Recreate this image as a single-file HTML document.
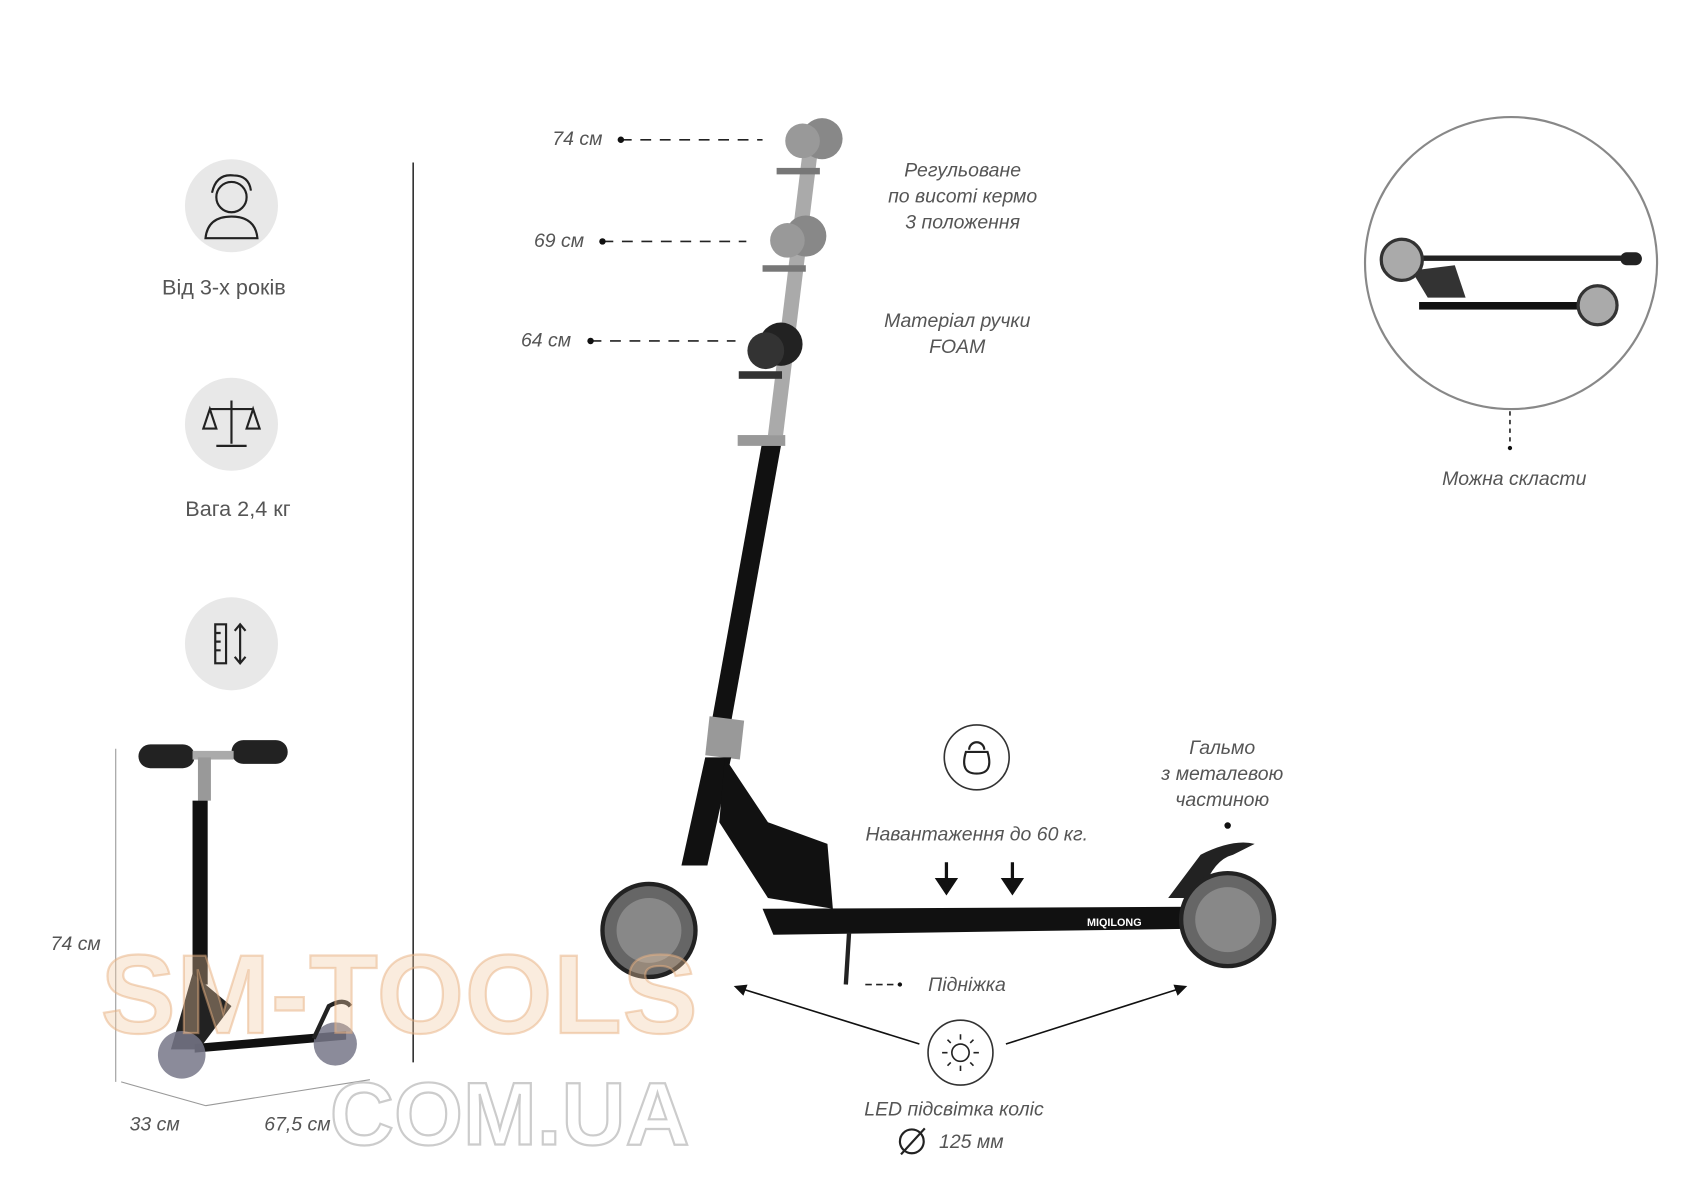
<!DOCTYPE html>
<html><head><meta charset="utf-8"><style>
html,body{margin:0;padding:0;background:#fff;}
svg{display:block}
text{font-family:"Liberation Sans",sans-serif;}
.it{font-style:italic;fill:#555;font-size:18px;}
.lb{fill:#555;font-size:20px;}
</style></head><body>
<svg width="1696" height="1200" viewBox="0 0 1568 1109" xmlns="http://www.w3.org/2000/svg">
<rect width="1568" height="1109" fill="#fff"/>
<circle cx="214" cy="190" r="43" fill="#e8e8e8"/>
<g fill="none" stroke="#222" stroke-width="2"><circle cx="214" cy="182" r="14"/><path d="M196 178q4-18 20-16q14 0 16 14"/><path d="M190 220q2-20 24-20q22 0 24 20z"/></g>
<text x="207" y="272" class="lb" text-anchor="middle">Від 3-х років</text>
<circle cx="214" cy="392" r="43" fill="#e8e8e8"/>
<g fill="none" stroke="#222" stroke-width="2"><path d="M214 370v40M200 412h28M194 378h40M194 378l-6 18h12zM234 378l-6 18h12z"/></g>
<text x="220" y="477" class="lb" text-anchor="middle">Вага 2,4 кг</text>
<circle cx="214" cy="595" r="43" fill="#e8e8e8"/>
<g fill="none" stroke="#222" stroke-width="2"><rect x="199" y="577" width="10" height="36"/><path d="M199 585h5M199 593h5M199 601h5M222 578v34M217 583l5-6 5 6M217 607l5 6 5-6"/></g>
<line x1="382" y1="150" x2="382" y2="982" stroke="#333" stroke-width="1.5"/>
<g>
<line x1="107" y1="692" x2="107" y2="1000" stroke="#999" stroke-width="1"/>
<line x1="112" y1="1000" x2="190" y2="1022" stroke="#999"/>
<line x1="190" y1="1022" x2="342" y2="998" stroke="#999"/>
<rect x="128" y="688" width="52" height="22" rx="11" fill="#222"/>
<rect x="214" y="684" width="52" height="22" rx="11" fill="#222"/>
<rect x="178" y="694" width="38" height="8" fill="#aaa"/>
<rect x="183" y="700" width="12" height="40" fill="#999"/>
<rect x="178" y="740" width="14" height="170" fill="#111"/>
<path d="M178 900l-20 70h26l30-40z" fill="#222"/>
<path d="M180 965l140-12v8l-140 12z" fill="#111"/>
<circle cx="168" cy="975" r="22" fill="#778" opacity="0.85"/>
<circle cx="310" cy="965" r="20" fill="#778" opacity="0.85"/>
<path d="M290 960l14-30q14-8 20 0" fill="none" stroke="#222" stroke-width="4"/>
</g>
<text x="70" y="878" class="it" text-anchor="middle">74 см</text>
<text x="143" y="1045" class="it" text-anchor="middle">33 см</text>
<text x="275" y="1045" class="it" text-anchor="middle">67,5 см</text>
<g>
<path d="M742 140l-32 262h14l32-262z" fill="#aaa"/>
<circle cx="760" cy="128" r="19" fill="#888"/><circle cx="742" cy="130" r="16" fill="#999"/>
<rect x="718" y="155" width="40" height="6" fill="#777"/>
<circle cx="745" cy="218" r="19" fill="#888"/><circle cx="728" cy="222" r="16" fill="#999"/>
<rect x="705" y="245" width="40" height="6" fill="#777"/>
<circle cx="722" cy="318" r="20" fill="#222"/><circle cx="708" cy="324" r="17" fill="#333"/>
<rect x="683" y="343" width="40" height="7" fill="#333"/>
<rect x="682" y="402" width="44" height="10" fill="#999"/>
<path d="M704 412l-46 255h18l46-255z" fill="#111"/>
<path d="M656 662l32 4-4 36-32-4z" fill="#999"/>
<path d="M652 700l-22 100h24l22-100z" fill="#111"/>
<path d="M670 700l40 60 55 20 5 60-60-10-45-70z" fill="#111"/>
<text x="668" y="540" fill="#fff" font-size="16" font-weight="bold" transform="rotate(-80 668 540)" text-anchor="middle">MIQILONG</text>
<path d="M705 840l420-2 10 20-420 6z" fill="#111"/>
<text x="1005" y="856" fill="#fff" font-size="10" font-weight="bold">MIQILONG</text>
<path d="M1080 830l30-40q30-15 50-10l-20 10q-20 5-30 40z" fill="#222"/>
<line x1="785" y1="862" x2="782" y2="910" stroke="#222" stroke-width="4"/>
<circle cx="600" cy="860" r="43" fill="#666" stroke="#222" stroke-width="4"/><circle cx="600" cy="860" r="30" fill="#888"/>
<circle cx="1135" cy="850" r="43" fill="#666" stroke="#222" stroke-width="4"/><circle cx="1135" cy="850" r="30" fill="#888"/>
</g>
<g class="it">
<text x="557" y="134" text-anchor="end">74 см</text>
<text x="540" y="228" text-anchor="end">69 см</text>
<text x="528" y="320" text-anchor="end">64 см</text>
</g>
<g stroke="#222" stroke-width="1.5" stroke-dasharray="10 8" fill="none">
<line x1="574" y1="129" x2="705" y2="129"/><line x1="557" y1="223" x2="690" y2="223"/><line x1="546" y1="315" x2="680" y2="315"/>
<line x1="800" y1="910" x2="832" y2="910" stroke-dasharray="6 4"/>
<line x1="1396" y1="380" x2="1396" y2="412" stroke-dasharray="4 4"/>
</g>
<g fill="#111"><circle cx="574" cy="129" r="3"/><circle cx="557" cy="223" r="3"/><circle cx="546" cy="315" r="3"/><circle cx="1135" cy="763" r="3"/><circle cx="1396" cy="414" r="2"/><circle cx="832" cy="910" r="2"/></g>
<g class="it" text-anchor="middle">
<text x="890" y="163">Регульоване</text><text x="890" y="187">по висоті кермо</text><text x="890" y="211">3 положення</text>
<text x="885" y="302">Матеріал ручки</text><text x="885" y="326">FOAM</text>
<text x="903" y="777">Навантаження до 60 кг.</text>
<text x="1130" y="697">Гальмо</text><text x="1130" y="721">з металевою</text><text x="1130" y="745">частиною</text>
<text x="894" y="916">Підніжка</text>
<text x="882" y="1031">LED підсвітка коліс</text>
<text x="898" y="1061">125 мм</text>
<text x="1400" y="448">Можна скласти</text>
</g>
<circle cx="843" cy="1055" r="11" fill="none" stroke="#222" stroke-width="2"/><line x1="833" y1="1067" x2="855" y2="1043" stroke="#222" stroke-width="2"/>
<circle cx="903" cy="700" r="30" fill="#fff" stroke="#333" stroke-width="1.5"/>
<path d="M893 695q-6 20 10 20q16 0 10-20z M896 693a7 7 0 1 1 14 0" fill="none" stroke="#222" stroke-width="2"/>
<path d="M875 797v22M867 813l8 12 8-12z M936 797v22M928 813l8 12 8-12z" stroke="#111" stroke-width="3" fill="#111"/>
<circle cx="888" cy="973" r="30" fill="#fff" stroke="#333" stroke-width="1.5"/>
<circle cx="888" cy="973" r="8" fill="none" stroke="#222" stroke-width="1.5"/>
<g stroke="#222" stroke-width="1.5"><path d="M888 956v5M888 985v5M871 973h5M900 973h5M876 961l3 3M897 982l3 3M876 985l3-3M897 964l3-3"/></g>
<g stroke="#111" stroke-width="1.5" fill="#111">
<line x1="686" y1="914" x2="850" y2="965"/><path d="M680 912l10-1-3 8z"/>
<line x1="930" y1="965" x2="1090" y2="914"/><path d="M1096 912l-10-1 3 8z"/>
</g>
<circle cx="1397" cy="243" r="135" fill="#fff" stroke="#888" stroke-width="2"/>
<g>
<rect x="1310" y="236" width="200" height="5" fill="#222"/>
<rect x="1498" y="233" width="20" height="12" rx="6" fill="#222"/>
<rect x="1312" y="279" width="150" height="7" fill="#111"/>
<path d="M1305 250l15 25h35l-10-30z" fill="#333"/>
<circle cx="1296" cy="240" r="19" fill="#aaa" stroke="#333" stroke-width="3"/>
<circle cx="1477" cy="282" r="18" fill="#aaa" stroke="#333" stroke-width="3"/>
</g>
<text x="93" y="955" font-size="104" font-weight="bold" fill="#f0c9a0" fill-opacity="0.35" stroke="#e8b080" stroke-opacity="0.5" stroke-width="2" textLength="552">SM-TOOLS</text>
<text x="305" y="1058" font-size="82" font-weight="bold" fill="none" stroke="#ccc" stroke-width="2">COM.UA</text>
</svg>
</body></html>
